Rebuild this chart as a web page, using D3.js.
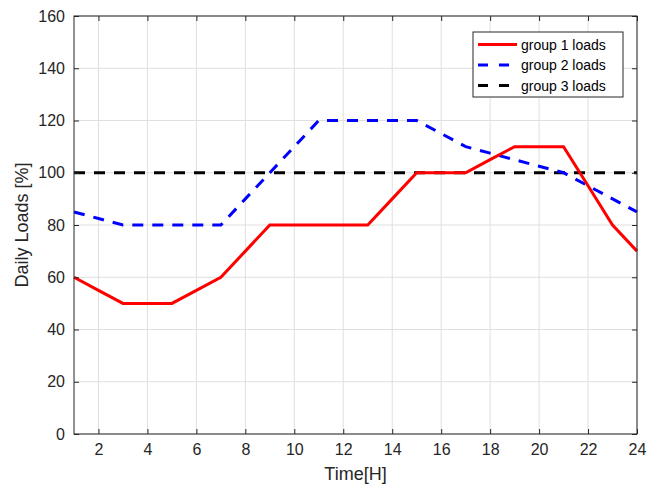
<!DOCTYPE html>
<html>
<head>
<meta charset="utf-8">
<script src="https://cdn.jsdelivr.net/npm/d3@7"></script>
<style>
  body { margin: 0; background: #fff; }
  text { font-family: Arial, "Liberation Sans", sans-serif; }
</style>
</head>
<body>
<div id="chart"></div>
<script>
var hours   = d3.range(1, 25);
var group1  = [60, 55, 50, 50, 50, 55, 60, 70, 80, 80, 80, 80, 80, 90, 100, 100, 100, 105, 110, 110, 110, 95, 80, 70];
var group2  = [85, 82.5, 80, 80, 80, 80, 80, 90, 100, 110, 120, 120, 120, 120, 120, 115, 110, 107.5, 105, 102.5, 100, 95, 90, 85];
var group3  = hours.map(function () { return 100; });
var xTicks  = [2, 4, 6, 8, 10, 12, 14, 16, 18, 20, 22, 24];
var yTicks  = [0, 20, 40, 60, 80, 100, 120, 140, 160];

var series = [
  { name: "group 1 loads", values: group1, color: "#ff0000", dash: null },
  { name: "group 2 loads", values: group2, color: "#0000ff", dash: "11,9" },
  { name: "group 3 loads", values: group3, color: "#000000", dash: "11,9" }
];

var width = 657, height = 484;
var m = { left: 74, right: 20, top: 16, bottom: 50 };

var svg = d3.select("#chart").append("svg")
  .attr("width", width).attr("height", height);

var x = d3.scaleLinear().domain([1, 24]).range([m.left, width - m.right]);
var y = d3.scaleLinear().domain([0, 160]).range([height - m.bottom, m.top]);

// grid
var grid = svg.append("g").attr("stroke", "#dfdfdf").attr("stroke-width", 1);
grid.selectAll("line.gx").data(xTicks).enter().append("line")
  .attr("x1", function (d) { return x(d); }).attr("x2", function (d) { return x(d); })
  .attr("y1", y(0)).attr("y2", y(160));
grid.selectAll("line.gy").data(yTicks).enter().append("line")
  .attr("y1", function (d) { return y(d); }).attr("y2", function (d) { return y(d); })
  .attr("x1", x(1)).attr("x2", x(24));

// lines
var line = d3.line()
  .x(function (d, i) { return x(hours[i]); })
  .y(function (d) { return y(d); });

// black first, then blue, red on top
[series[2], series[1], series[0]].forEach(function (s) {
  svg.append("path")
    .attr("d", line(s.values))
    .attr("fill", "none")
    .attr("stroke", s.color)
    .attr("stroke-width", 3)
    .attr("stroke-dasharray", s.dash);
});

// axes
function styleAxis(g) {
  g.select(".domain").remove();
  g.selectAll(".tick line").attr("stroke", "#262626");
  g.selectAll(".tick text").attr("fill", "#262626").style("font-size", "16px");
}

svg.append("g")
  .attr("transform", "translate(0," + y(0) + ")")
  .call(d3.axisBottom(x).tickValues(xTicks).tickSize(-5).tickPadding(10))
  .call(styleAxis);
svg.append("g")
  .attr("transform", "translate(0," + y(160) + ")")
  .call(d3.axisTop(x).tickValues(xTicks).tickSize(-5).tickFormat(""))
  .call(styleAxis);
svg.append("g")
  .attr("transform", "translate(" + x(1) + ",0)")
  .call(d3.axisLeft(y).tickValues(yTicks).tickSize(-5).tickPadding(9))
  .call(styleAxis);
svg.append("g")
  .attr("transform", "translate(" + x(24) + ",0)")
  .call(d3.axisRight(y).tickValues(yTicks).tickSize(-5).tickFormat(""))
  .call(styleAxis);

// box
svg.append("rect")
  .attr("x", x(1)).attr("y", y(160))
  .attr("width", x(24) - x(1)).attr("height", y(0) - y(160))
  .attr("fill", "none").attr("stroke", "#262626").attr("stroke-width", 1);

// labels
svg.append("text")
  .attr("x", (x(1) + x(24)) / 2).attr("y", 480)
  .attr("text-anchor", "middle").attr("fill", "#262626")
  .style("font-size", "18px").text("Time[H]");
svg.append("text")
  .attr("transform", "translate(28," + (y(0) + y(160)) / 2 + ") rotate(-90)")
  .attr("text-anchor", "middle").attr("fill", "#262626")
  .style("font-size", "18px").text("Daily Loads [%]");

// legend
var lg = svg.append("g").attr("transform", "translate(473,32)");
lg.append("rect")
  .attr("width", 150).attr("height", 65)
  .attr("fill", "#fff").attr("stroke", "#262626").attr("stroke-width", 1);
series.forEach(function (s, i) {
  var ly = 12.5 + i * 20.5;
  lg.append("line")
    .attr("x1", 5).attr("x2", 44).attr("y1", ly).attr("y2", ly)
    .attr("stroke", s.color).attr("stroke-width", 3)
    .attr("stroke-dasharray", s.dash ? "10,11" : null);
  lg.append("text")
    .attr("x", 48).attr("y", ly + 5)
    .attr("fill", "#000").style("font-size", "14px")
    .text(s.name);
});
</script>
</body>
</html>
